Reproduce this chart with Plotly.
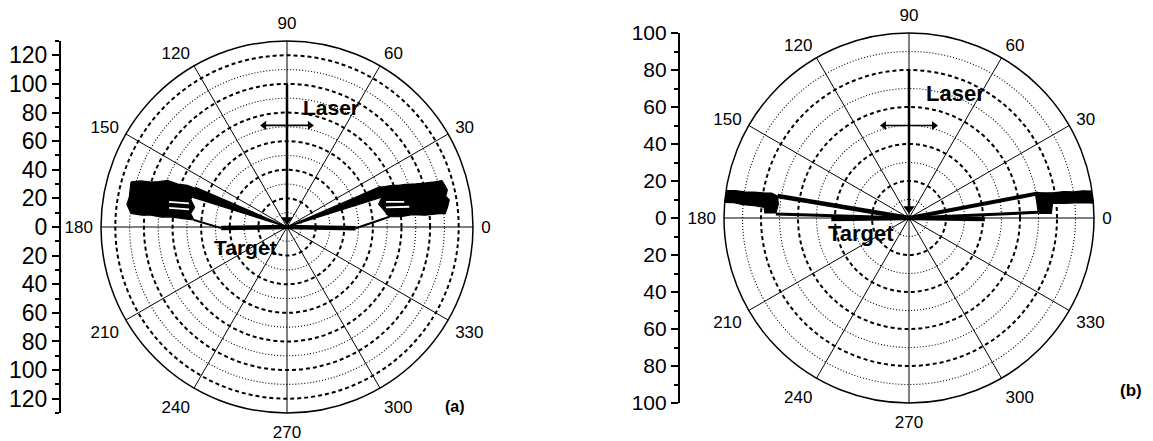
import numpy as np
import plotly.graph_objects as go

W, H = 1153, 441
FONT = "Liberation Sans, Arial, sans-serif"

# ---------------- data : panel (a) ----------------
A_RMAX = 130
A_MAJOR_RINGS = [20, 40, 60, 80, 100, 120]
A_MINOR_RINGS = [10, 30, 50, 70, 90, 110]
A_AXIS_TICKS = [-120, -100, -80, -60, -40, -20, 0, 20, 40, 60, 80, 100, 120]
A_AXIS_MINOR = [-130, -110, -90, -70, -50, -30, -10, 10, 30, 50, 70, 90, 110, 130]

A_BAND_R_RIGHT = [72, 80, 88, 97, 105, 111, 113, 115, 113, 115, 114, 113, 108, 102, 95, 88, 83, 79, 74, 70.4, 67, 69, 66, 68, 70, 72]
A_BAND_T_RIGHT = [5.7, 5.2, 5.6, 4.9, 5.0, 4.9, 7, 9.5, 11, 13, 15, 16.7, 17.0, 17.6, 18.5, 19.8, 20.5, 21.6, 22.5, 23.4, 20, 17, 14, 11, 8, 5.7]
A_BAND_R_LEFT = [113.5, 112.2, 113, 109.4, 102, 95.5, 88, 81.6, 73, 65.2, 68, 66, 70, 69.3, 75.5, 82, 89.7, 95, 100.2, 107, 113.5]
A_BAND_T_LEFT = [163.9, 169.2, 172, 175, 175.3, 175, 175.5, 175, 175.4, 175.7, 172, 168, 164, 157.2, 157.3, 158.5, 158.7, 160.5, 161.7, 162.5, 163.9]
A_WEDGE_R_RIGHT = [0, 68, 70.4, 0]
A_WEDGE_T_RIGHT = [20, 17.5, 23.4, 20]
A_WEDGE_R_LEFT = [0, 69, 69.3, 0]
A_WEDGE_T_LEFT = [160, 162.5, 156.5, 160]
A_TARGET_R = [[0, 48], [0, 46]]
A_TARGET_T = [[-1, -1], [180.8, 180.8]]
A_CONNECT_R = [[48, 72], [46, 65.2]]
A_CONNECT_T = [[-1, 5.7], [181, 175.7]]
A_STRIPE_R = [[71.4, 83.8], [70.6, 86.6], [70.5, 84.3], [69.6, 83.5]]
A_STRIPE_T = [[14.2, 12.1], [11.2, 9.4], [166.5, 168.0], [169.8, 170.8]]
A_LASER_R = 100
A_POL_Y = 71
A_POL_HALF = 16

# ---------------- data : panel (b) ----------------
B_RMAX = 100
B_MAJOR_RINGS = [20, 40, 60, 80]
B_MINOR_RINGS = [10, 30, 50, 70, 90]
B_AXIS_TICKS = [-100, -80, -60, -40, -20, 0, 20, 40, 60, 80, 100]
B_AXIS_MINOR = [-90, -70, -50, -30, -10, 10, 30, 50, 70, 90]

B_BAND_R_RIGHT = [69.6, 75, 80, 85, 90, 95, 100, 100, 95, 90, 84, 78, 77, 73, 70, 69.6, 69.6]
B_BAND_T_RIGHT = [11.4, 10.4, 9.9, 9.7, 9.0, 8.9, 8.4, 4.6, 5.0, 5.2, 5.4, 5.8, 1.9, 2.0, 2.0, 6.5, 11.4]
B_BAND_R_LEFT = [100, 95, 90, 85, 80, 75.5, 72, 71, 72, 78, 78.5, 84, 90, 95, 100, 100]
B_BAND_T_LEFT = [171.5, 171.0, 171.0, 170.5, 170.2, 169.7, 170.5, 174, 177.8, 178, 175.8, 175.4, 175.4, 175.0, 175.2, 171.5]
B_LINES_R = [[0, 71], [0, 70], [0, 41], [0, 72], [0, 72], [0, 42]]
B_LINES_T = [[11, 10.8], [2.5, 2.5], [-0.8, -0.8], [170.5, 170.5], [178.3, 178.3], [180.8, 180.8]]
B_LINES_W = [4, 3, 4.5, 4.5, 3, 4.5]
B_LASER_R = 80
B_POL_Y = 50
B_POL_HALF = 13.5

ANGLE_TICKS = list(range(0, 360, 30))

# ---------------- layout geometry (pixels) ----------------
A_CX, A_CY, A_RAD = 287, 227, 186
B_CX, B_CY, B_RAD = 909, 218, 185


def dom(cx, cy, rad):
    return dict(x=[(cx - rad) / W, (cx + rad) / W],
                y=[(H - cy - rad) / H, (H - cy + rad) / H])


fig = go.Figure()


def polar_line(sub, r, t, width, color="black", dash="solid"):
    fig.add_trace(go.Scatterpolar(r=r, theta=t, mode="lines", subplot=sub,
                                  line=dict(color=color, width=width, dash=dash),
                                  showlegend=False, hoverinfo="skip"))


def polar_fill(sub, r, t):
    fig.add_trace(go.Scatterpolar(r=r, theta=t, mode="lines", fill="toself", subplot=sub,
                                  fillcolor="black", line=dict(color="black", width=1.2),
                                  showlegend=False, hoverinfo="skip"))


ring_theta = np.linspace(0, 360, 721)
for sub, rings in (("polar", A_MINOR_RINGS), ("polar2", B_MINOR_RINGS)):
    for rr in rings:
        polar_line(sub, np.full_like(ring_theta, rr), ring_theta, 1.1, dash="1px,2px")

# panel (a) data
polar_fill("polar", A_BAND_R_RIGHT, A_BAND_T_RIGHT)
polar_fill("polar", A_BAND_R_LEFT, A_BAND_T_LEFT)
polar_fill("polar", A_WEDGE_R_RIGHT, A_WEDGE_T_RIGHT)
polar_fill("polar", A_WEDGE_R_LEFT, A_WEDGE_T_LEFT)
for r, t in zip(A_TARGET_R, A_TARGET_T):
    polar_line("polar", r, t, 4.5)
for r, t in zip(A_CONNECT_R, A_CONNECT_T):
    polar_line("polar", r, t, 2)
for r, t in zip(A_STRIPE_R, A_STRIPE_T):
    polar_line("polar", r, t, 1.8, color="white")

# panel (b) data
polar_fill("polar2", B_BAND_R_RIGHT, B_BAND_T_RIGHT)
polar_fill("polar2", B_BAND_R_LEFT, B_BAND_T_LEFT)
for r, t, w in zip(B_LINES_R, B_LINES_T, B_LINES_W):
    polar_line("polar2", r, t, w)


def laser(sub, length, pol_y, pol_half):
    polar_line(sub, [6, length], [90, 90], 2.5)
    fig.add_trace(go.Scatterpolar(r=[5], theta=[90], mode="markers", subplot=sub,
                                  marker=dict(symbol="triangle-down", size=10, color="black"),
                                  showlegend=False, hoverinfo="skip"))
    xs = np.array([-pol_half, pol_half])
    ys = np.array([pol_y, pol_y])
    rr = np.hypot(xs, ys)
    tt = np.degrees(np.arctan2(ys, xs))
    fig.add_trace(go.Scatterpolar(r=rr, theta=tt, mode="lines+markers", subplot=sub,
                                  line=dict(color="black", width=1.6),
                                  marker=dict(symbol=["triangle-left", "triangle-right"], size=8, color="black"),
                                  showlegend=False, hoverinfo="skip"))


laser("polar", A_LASER_R, A_POL_Y, A_POL_HALF)
laser("polar2", B_LASER_R, B_POL_Y, B_POL_HALF)

# invisible traces to carry the vertical scale axes
fig.add_trace(go.Scatter(x=[None], y=[None], xaxis="x", yaxis="y", showlegend=False))
fig.add_trace(go.Scatter(x=[None], y=[None], xaxis="x2", yaxis="y2", showlegend=False))


def polar_layout(d, rmax, majors, fs):
    return dict(
        domain=d,
        bgcolor="white",
        radialaxis=dict(range=[0, rmax], tickmode="array", tickvals=majors,
                        showticklabels=False, ticks="", showline=False,
                        gridcolor="black", griddash="4px,3px", gridwidth=1.6),
        angularaxis=dict(rotation=0, direction="counterclockwise",
                         tickmode="array", tickvals=ANGLE_TICKS,
                         ticktext=[str(a) for a in ANGLE_TICKS],
                         showline=True, linecolor="black", linewidth=1.5,
                         gridcolor="black", gridwidth=1, griddash="solid",
                         ticks="outside", ticklen=4, tickcolor="rgba(0,0,0,0)",
                         tickfont=dict(family=FONT, size=fs, color="black")),
    )


def side_axis(d, rmax, ticks, minors, pos, fs):
    return dict(domain=d["y"], range=[-rmax, rmax], anchor="free", position=pos,
                side="left", showline=True, linecolor="black", linewidth=2.2,
                ticks="outside", ticklen=7, tickwidth=2, tickcolor="black",
                tickmode="array", tickvals=ticks, ticktext=[str(abs(v)) for v in ticks],
                tickfont=dict(family=FONT, size=fs, color="black"),
                showgrid=False, zeroline=False, fixedrange=True, automargin=False,
                minor=dict(tickmode="array", tickvals=minors, ticks="outside",
                           ticklen=4, tickwidth=1.5, tickcolor="black", showgrid=False))


dA = dom(A_CX, A_CY, A_RAD)
dB = dom(B_CX, B_CY, B_RAD)

annots = []


def label(text, px, py, size):
    annots.append(dict(text="<b>%s</b>" % text, x=px / W, y=1 - py / H, xref="paper", yref="paper",
                       showarrow=False, xanchor="center", yanchor="middle",
                       font=dict(family=FONT, size=size, color="black")))


label("Laser", 331, 107, 21)
label("Target", 245, 247, 21)
label("Laser", 955, 94, 22)
label("Target", 861, 233, 22)
label("(a)", 455, 406, 16)
label("(b)", 1131, 390, 17)

fig.update_layout(
    width=W, height=H,
    margin=dict(l=0, r=0, t=0, b=0, pad=0, autoexpand=False),
    paper_bgcolor="white", plot_bgcolor="rgba(0,0,0,0)",
    showlegend=False,
    polar=polar_layout(dA, A_RMAX, A_MAJOR_RINGS, 17),
    polar2=polar_layout(dB, B_RMAX, B_MAJOR_RINGS, 17),
    xaxis=dict(domain=[0, 0.01], visible=False, fixedrange=True),
    xaxis2=dict(domain=[0.55, 0.56], visible=False, fixedrange=True),
    yaxis=side_axis(dA, A_RMAX, A_AXIS_TICKS, A_AXIS_MINOR, 60 / W, 23),
    yaxis2=side_axis(dB, B_RMAX, B_AXIS_TICKS, B_AXIS_MINOR, 679 / W, 21),
    annotations=annots,
)

fig.write_html("out.html")
